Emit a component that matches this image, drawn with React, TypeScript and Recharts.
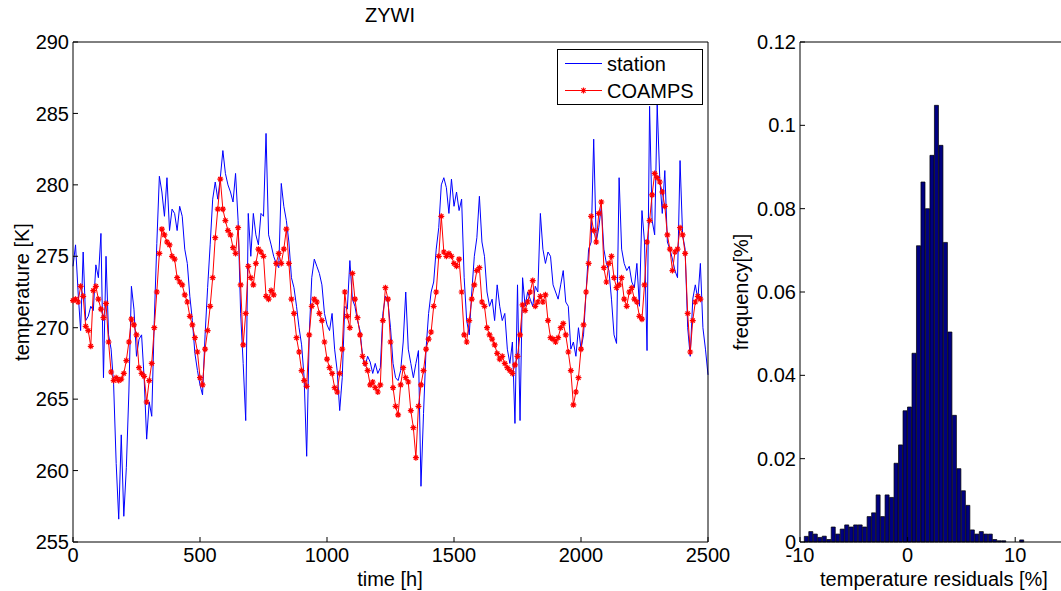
import React from "react";
import { LineChart, Line, BarChart, Bar, XAxis, YAxis } from "recharts";

// hourly temperature, read every 10 h
const timeStep = 10;
const stationTemp = [
  274.3, 275.8, 272.5, 269.8, 275.3, 270.5, 270.8, 271.5, 271.2, 274.4,
  273.5, 276.6, 266.5, 275.0, 269.5, 268.5, 266.0, 260.5, 256.6, 262.5,
  256.8, 260.2, 265.5, 272.9, 271.3, 268.0, 269.2, 269.5, 266.5, 262.2,
  264.8, 263.8, 270.5, 275.9, 280.6, 279.5, 277.8, 280.5, 276.8, 278.3,
  278.0, 276.8, 278.5, 277.8, 275.5, 274.5, 272.2, 270.5, 268.2, 267.0,
  266.0, 265.3, 269.5, 272.8, 275.8, 279.0, 280.2, 279.0, 280.5, 282.4,
  280.8, 280.0, 279.5, 278.8, 280.8, 277.5, 271.0, 267.5, 263.5, 278.0,
  275.0, 278.0, 276.5, 275.8, 278.0, 277.8, 283.6, 276.5, 275.8, 275.0,
  274.5, 274.2, 280.1, 278.5, 277.5, 276.0, 273.5, 272.8, 271.5, 270.0,
  268.8, 266.5, 261.0, 269.5, 273.5, 274.8, 274.3, 273.8, 273.0, 271.0,
  270.2, 269.8, 271.0, 268.5, 267.0, 264.2, 266.5, 271.5, 271.3, 274.7,
  272.0, 271.5, 270.5, 269.8, 268.0, 267.3, 268.0, 267.6, 266.8, 267.5,
  266.8, 267.2, 271.0, 272.2, 271.8, 270.0, 267.5, 266.5, 266.3, 267.0,
  269.0, 272.5, 268.5, 267.5, 266.5, 267.5, 268.4, 258.9, 264.0, 268.5,
  271.0, 272.5, 273.2, 275.5, 277.0, 280.0, 280.5, 279.8, 278.0, 280.4,
  278.5, 279.5, 278.2, 279.0, 273.5, 270.5, 269.5, 272.5, 275.0, 276.3,
  279.2, 276.0, 275.0, 272.5, 271.5, 272.0, 270.5, 273.0, 271.5, 270.5,
  271.0, 268.5, 267.5, 269.0, 263.3, 273.0, 263.5, 273.5, 271.5, 272.5,
  272.0, 271.5, 272.9, 272.5, 278.0, 275.5, 274.5, 275.3, 275.0, 273.0,
  272.5, 272.0, 273.0, 274.0, 271.8, 271.5, 268.5, 269.0, 268.0, 270.0,
  268.5, 269.5, 272.5, 275.5, 276.0, 283.2, 276.0, 277.0, 278.5, 275.5,
  274.5, 274.0, 272.0, 269.5, 268.9, 280.5, 275.5, 274.5, 274.0, 274.3,
  273.2, 272.8, 274.5, 271.5, 278.2, 276.0, 268.4, 285.5, 277.5, 276.5,
  285.6, 280.5, 278.0, 281.0, 276.0, 275.5, 274.8, 274.0, 273.5, 281.7,
  276.5, 275.5, 270.0, 268.0, 272.0, 273.0, 272.0, 274.5, 270.0, 268.5,
  266.7,
];
const coampsTemp = [
  271.9, 272.0, 271.8, 272.9, 272.2, 270.1, 269.8, 268.7, 272.6, 272.9,
  272.0, 271.3, 270.7, 271.7, 269.0, 266.9, 266.3, 266.5, 266.3, 266.4,
  266.8, 267.7, 269.0, 270.6, 270.2, 269.5, 267.2, 266.8, 266.6, 264.8,
  266.3, 267.5, 270.0, 272.5, 275.2, 276.9, 276.5, 276.0, 275.8, 275.0,
  274.8, 273.5, 273.2, 273.0, 272.3, 271.8, 270.8, 270.2, 269.3, 268.3,
  266.5, 266.0, 268.5, 269.8, 271.5, 273.5, 276.3, 278.3, 280.4, 278.3,
  277.5, 276.8, 276.5, 275.6, 275.2, 277.0, 273.0, 268.8, 271.0, 274.3,
  273.5, 273.0, 274.5, 275.5, 275.3, 275.0, 272.2, 272.0, 272.6, 272.3,
  274.5, 275.2, 274.5, 275.5, 276.9, 274.5, 272.0, 271.0, 269.3, 268.3,
  267.0, 266.3, 265.9, 269.5, 271.5, 272.0, 271.8, 271.0, 270.5, 269.0,
  267.8, 267.2, 266.8, 265.8, 265.5, 266.8, 268.5, 272.5, 270.8, 270.0,
  273.8, 272.0, 270.7, 269.5, 268.0, 267.5, 267.0, 266.0, 266.2, 265.8,
  265.5, 266.0, 270.5, 272.8, 272.0, 269.0, 265.8, 264.5, 263.9, 266.0,
  267.2, 266.5, 266.2, 264.2, 263.0, 260.9, 264.5, 266.0, 267.0, 268.5,
  269.2, 269.7, 271.5, 272.5, 275.0, 277.8, 275.3, 275.0, 275.2, 275.0,
  274.5, 274.3, 274.8, 272.5, 269.5, 269.0, 270.5, 272.0, 273.0, 274.0,
  274.2, 271.8, 271.5, 270.0, 269.5, 269.2, 268.8, 268.2, 267.8, 268.0,
  267.5, 267.2, 267.0, 266.8, 267.4, 268.0, 269.5, 271.6, 271.2, 271.8,
  272.5, 273.3, 271.5, 271.8, 272.2, 271.8, 272.3, 270.5, 269.3, 269.2,
  269.0, 269.3, 270.0, 270.3, 269.5, 268.3, 267.0, 264.6, 265.5, 266.5,
  268.5, 270.2, 272.5, 274.5, 277.8, 276.8, 276.0, 278.0, 278.8, 274.2,
  273.2, 274.5, 275.0, 273.5, 272.8, 273.0, 273.5, 272.0, 271.5, 272.5,
  272.8, 272.0, 271.8, 270.8, 270.6, 273.0, 276.0, 277.5, 279.3, 280.8,
  280.5, 280.2, 279.5, 278.5, 276.5, 275.5, 274.0, 275.3, 275.5, 277.0,
  276.5, 275.2, 271.0, 268.3, 270.5, 271.8, 272.2, 272.0,
];
const timeTicks = [0, 500, 1000, 1500, 2000, 2500];
const tempTicks = [255, 260, 265, 270, 275, 280, 285, 290];

// residual histogram
const residualBinStart = -9.6;
const residualBinWidth = 0.417;
const residualFreq = [
  0.00135, 0.0025, 0.0019, 0.0011, 0.0014, 0.0006, 0.0036, 0.0019, 0.0031, 0.0041,
  0.0036, 0.0041, 0.0041, 0.0036, 0.0061, 0.007, 0.0113, 0.0061, 0.0113, 0.0107,
  0.0189, 0.0233, 0.0315, 0.0324, 0.0453, 0.0711, 0.0864, 0.08, 0.0928, 0.1048,
  0.0952, 0.0719, 0.0504, 0.0304, 0.0176, 0.0123, 0.0088, 0.0029, 0.0019, 0.0025,
  0.0019, 0.0019, 0.0006, 0.0003, 0.0003, 0, 0, 0, 0.0005,
];
const residualTicks = [-10, 0, 10];
const freqTicks = [0, 0.02, 0.04, 0.06, 0.08, 0.1, 0.12];

const seriesData = stationTemp.map((v, i) => ({
  t: i * timeStep,
  station: v,
  coamps: i < coampsTemp.length ? coampsTemp[i] : null,
}));

const histData = residualFreq.map((f, i) => ({
  x: residualBinStart + residualBinWidth * (i + 0.5),
  f,
}));

const FONT = '"Liberation Sans", Arial, Helvetica, sans-serif';
const tickStyle = { fill: "#000", fontSize: 20, fontFamily: FONT };

const StarDot = (props: any) => {
  const { cx, cy, index } = props;
  if (cx == null || cy == null || props.value == null) return <g key={index} />;
  const r = 3;
  const d = r * 0.7;
  return (
    <path
      key={index}
      d={`M${cx - r},${cy}h${2 * r}M${cx},${cy - r}v${2 * r}M${cx - d},${cy - d}l${2 * d},${2 * d}M${cx - d},${cy + d}l${2 * d},${-2 * d}`}
      stroke="#FF0000"
      strokeWidth={1.2}
      fill="none"
    />
  );
};

const textBase: React.CSSProperties = {
  position: "absolute",
  fontFamily: FONT,
  fontSize: 20,
  lineHeight: "23px",
  color: "#000",
  whiteSpace: "nowrap",
};

const App: React.FC = () => {
  return (
    <div
      style={{
        position: "absolute",
        left: 0,
        top: 0,
        width: 1061,
        height: 591,
        overflow: "hidden",
        background: "#fff",
      }}
    >
      <div style={{ position: "absolute", left: 0, top: 0 }}>
        <LineChart
          width={745}
          height={591}
          data={seriesData}
          margin={{ top: 41, right: 36, bottom: 19, left: 23 }}
        >
          <XAxis
            dataKey="t"
            type="number"
            domain={[0, 2500]}
            ticks={timeTicks}
            interval={0}
            height={30}
            tickSize={-5}
            tickMargin={11}
            stroke="#000"
            tick={tickStyle}
          />
          <XAxis
            xAxisId="top"
            orientation="top"
            type="number"
            domain={[0, 2500]}
            ticks={timeTicks}
            interval={0}
            height={1}
            tickSize={-5}
            tick={false}
            stroke="#000"
          />
          <YAxis
            type="number"
            domain={[255, 290]}
            ticks={tempTicks}
            interval={0}
            width={50}
            tickSize={-5}
            tickMargin={9}
            stroke="#000"
            tick={tickStyle}
          />
          <YAxis
            yAxisId="r"
            orientation="right"
            type="number"
            domain={[255, 290]}
            ticks={tempTicks}
            interval={0}
            width={1}
            tickSize={-5}
            tick={false}
            stroke="#000"
          />
          <Line
            type="linear"
            dataKey="station"
            stroke="#0000FF"
            strokeWidth={1}
            dot={false}
            isAnimationActive={false}
          />
          <Line
            type="linear"
            dataKey="coamps"
            stroke="#FF0000"
            strokeWidth={1}
            dot={StarDot}
            activeDot={false}
            isAnimationActive={false}
          />
        </LineChart>
      </div>

      <div style={{ position: "absolute", left: 700, top: 0 }}>
        <BarChart
          width={380}
          height={591}
          data={histData}
          margin={{ top: 41, right: 11, bottom: 19, left: 40 }}
          barCategoryGap={0}
        >
          <XAxis
            dataKey="x"
            type="number"
            domain={[-10, 15]}
            ticks={residualTicks}
            interval={0}
            height={30}
            tickSize={-5}
            tickMargin={11}
            stroke="#000"
            tick={tickStyle}
            allowDataOverflow
          />
          <XAxis
            xAxisId="top"
            orientation="top"
            type="number"
            domain={[-10, 15]}
            ticks={residualTicks}
            interval={0}
            height={1}
            tickSize={-5}
            tick={false}
            stroke="#000"
          />
          <YAxis
            type="number"
            domain={[0, 0.12]}
            ticks={freqTicks}
            interval={0}
            width={60}
            tickSize={-5}
            tickMargin={9}
            stroke="#000"
            tick={tickStyle}
            tickFormatter={(v: number) => String(Number(v.toFixed(2)))}
          />
          <Bar
            dataKey="f"
            fill="#000080"
            stroke="#000"
            strokeWidth={0.7}
            barSize={4.5}
            isAnimationActive={false}
          />
        </BarChart>
      </div>

      {/* legend */}
      <svg
        style={{ position: "absolute", left: 557, top: 49 }}
        width={147}
        height={57}
      >
        <rect x={0.5} y={0.5} width={145} height={55} fill="#fff" stroke="#000" />
        <line x1={8} x2={45} y1={14.5} y2={14.5} stroke="#0000FF" strokeWidth={1} />
        <line x1={8} x2={45} y1={41.5} y2={41.5} stroke="#FF0000" strokeWidth={1} />
        <StarDot cx={26.5} cy={41.5} value={1} index={0} />
        <text x={50} y={14.5} dominantBaseline="central" fontFamily={FONT} fontSize={20} fill="#000">
          station
        </text>
        <text x={50} y={41.5} dominantBaseline="central" fontFamily={FONT} fontSize={20} fill="#000">
          COAMPS
        </text>
      </svg>

      <div style={{ ...textBase, left: 340, width: 100, top: 4, textAlign: "center" }}>ZYWI</div>
      <div style={{ ...textBase, left: 290, width: 200, top: 568, textAlign: "center" }}>time [h]</div>
      <div style={{ ...textBase, left: 784, width: 300, top: 568, textAlign: "center" }}>
        temperature residuals [%]
      </div>
      <div
        style={{
          ...textBase,
          left: 22,
          top: 292,
          transform: "translate(-50%, -50%) rotate(-90deg)",
        }}
      >
        temperature [K]
      </div>
      <div
        style={{
          ...textBase,
          left: 741,
          top: 292,
          transform: "translate(-50%, -50%) rotate(-90deg)",
        }}
      >
        frequency[%]
      </div>
    </div>
  );
};

export default App;
